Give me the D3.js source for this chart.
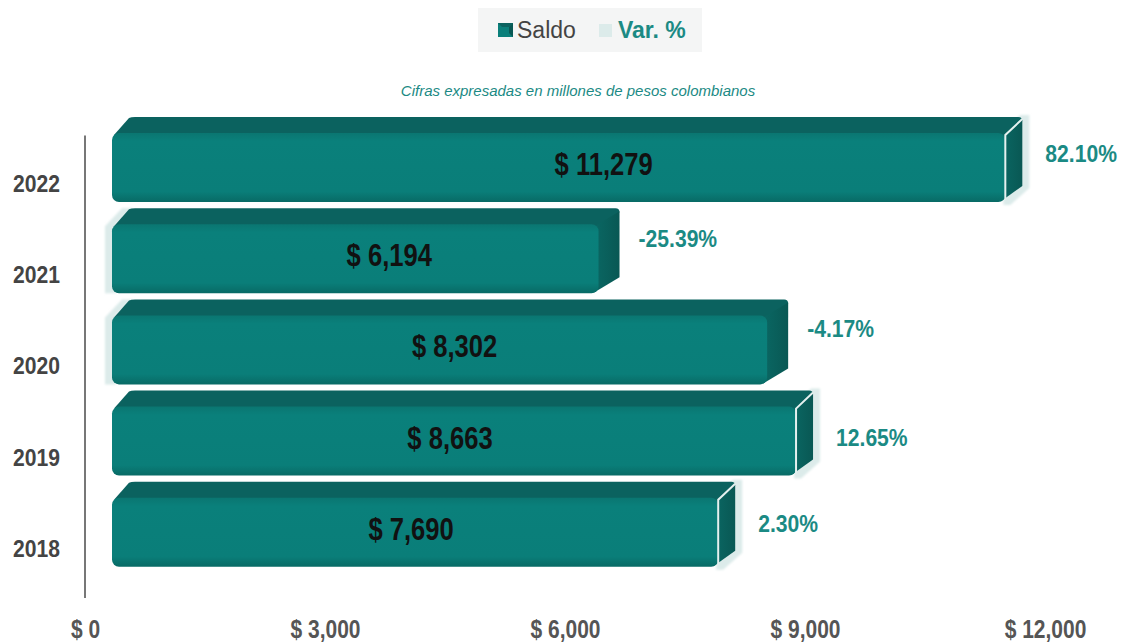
<!DOCTYPE html>
<html>
<head>
<meta charset="utf-8">
<script src="https://cdn.jsdelivr.net/npm/d3@7"></script>
<style>
  html, body { margin: 0; padding: 0; background: #ffffff; }
  svg { display: block; }
</style>
</head>
<body>
<svg id="chart" width="1124" height="642"></svg>
<script>
// Saldo por año (millones de pesos) y variación anual
const years = ["2018", "2019", "2020", "2021", "2022"];
const saldo = [7690, 8663, 8302, 6194, 11279];
const variacion = [2.30, 12.65, -4.17, -25.39, 82.10];
const xTicks = [0, 3000, 6000, 9000, 12000];

// small per-label placement tweaks (px)
const valueLabelShift = [-4, -4, 15, 34, 45];
const pctLabelShiftY = [-25, -20, -37, -36, -30];

const svg = d3.select("#chart");
const SANS = "'Liberation Sans',Arial,sans-serif";

const C = {
  top: "#0b625f",
  side: "#095854",
  front: "#0a7f7a",
  light: "#dcebea",
  pct: "#1b8a84",
  axisText: "#444444"
};

const loc = d3.formatLocale({ decimal: ".", thousands: ",", grouping: [3], currency: ["$", ""], minus: "-" });
const fmtInt = loc.format(",");
const fmtPct = loc.format(".2f");

const x = d3.scaleLinear().domain([0, 12000]).range([85, 1045]);
const y = d3.scaleBand().domain(years.slice().reverse()).range([138.4, 594.4]);

// 3D block geometry
const DX = 17, DY = 16;
const frontTopOff = -51, frontBotOff = 18;
const frontLeft = x(0) + 27;
const endOff = 18;

// condensed bold text: horizontal squeeze around the anchor point
function condensed(sel, s) {
  sel.each(function () {
    const t = d3.select(this);
    const px = +t.attr("x") || 0, py = +t.attr("y") || 0;
    t.attr("x", 0).attr("y", 0)
      .attr("transform", `translate(${px},${py}) scale(${s},1)`);
  });
}

const defs = svg.append("defs");
const g1 = defs.append("linearGradient").attr("id", "frontGrad")
  .attr("x1", 0).attr("y1", 0).attr("x2", 0).attr("y2", 1);
g1.append("stop").attr("offset", "0%").attr("stop-color", "#0a7671");
g1.append("stop").attr("offset", "12%").attr("stop-color", "#0a807b");
g1.append("stop").attr("offset", "85%").attr("stop-color", "#0a7e79");
g1.append("stop").attr("offset", "100%").attr("stop-color", "#086a65");

const sg = defs.append("linearGradient").attr("id", "sideGrad")
  .attr("x1", 0).attr("y1", 0).attr("x2", 1).attr("y2", 0);
sg.append("stop").attr("offset", "0%").attr("stop-color", "#0a6763");
sg.append("stop").attr("offset", "100%").attr("stop-color", C.side);

const f = defs.append("filter").attr("id", "soft").attr("x", "-10%").attr("y", "-30%")
  .attr("width", "120%").attr("height", "160%");
f.append("feGaussianBlur").attr("stdDeviation", 1.2);

// legend
const leg = svg.append("g");
leg.append("rect").attr("x", 478).attr("y", 8).attr("width", 224).attr("height", 44)
  .attr("fill", "#f4f5f5");
leg.append("rect").attr("x", 498).attr("y", 23).attr("width", 15).attr("height", 14)
  .attr("fill", C.front);
leg.append("path").attr("d", "M498,23 L513,23 L509,27 L502,27 Z").attr("fill", C.top);
leg.append("path").attr("d", "M513,23 L513,37 L509,33 L509,27 Z").attr("fill", C.side);
leg.append("text").attr("x", 517).attr("y", 38).text("Saldo")
  .attr("font-family", SANS).attr("font-size", 23).attr("fill", "#444");
leg.append("rect").attr("x", 599).attr("y", 24).attr("width", 13).attr("height", 13)
  .attr("fill", C.light);
leg.append("text").attr("x", 618).attr("y", 38).text("Var. %")
  .attr("font-family", SANS).attr("font-size", 23).attr("font-weight", "bold")
  .attr("fill", C.pct);

// subtitle
svg.append("text").attr("x", 578).attr("y", 96).attr("text-anchor", "middle")
  .attr("font-family", SANS).attr("font-style", "italic").attr("font-size", 15)
  .attr("fill", "#1b8a84").text("Cifras expresadas en millones de pesos colombianos");

// category axis line
svg.append("line").attr("x1", x(0)).attr("x2", x(0))
  .attr("y1", y.range()[0] - 3).attr("y2", y.range()[1] + 3)
  .attr("stroke", "#777").attr("stroke-width", 2);

const rows = years.map((yr, i) => ({ yr, v: saldo[i], p: variacion[i], i }));

const bars = svg.append("g").selectAll("g").data(rows).join("g");

bars.each(function (d) {
  const g = d3.select(this);
  const yc = y(d.yr) + y.bandwidth() / 2;
  const ft = yc + frontTopOff, fb = yc + frontBotOff;
  const xr = x(d.v) + endOff;
  const xl = frontLeft;
  const sideW = d.p < 0 ? DX + 4 : DX;

  // variation block (almost zero length), seen as a pale rim of the 3D block
  if (d.p < 0) {
    g.append("path").attr("fill", C.light).attr("filter", "url(#soft)")
      .attr("d", `M${xl - 7},${ft + 2} L${xl - 7 + DX},${ft - DY} L${xl + DX + 4},${ft - DY} L${xl + 4},${ft} L${xl + 4},${fb} L${xl - 7},${fb} Z`);
  } else {
    g.append("path").attr("fill", C.light).attr("filter", "url(#soft)")
      .attr("d", `M${xr - 2},${ft - 1} L${xr + DX - 2},${ft - DY - 2} L${xr + DX + 7},${ft - DY - 2} L${xr + DX + 7},${fb - DY + 2} L${xr + 5},${fb + 3} L${xr - 2},${fb + 3} Z`);
  }

  // top face
  g.append("path").attr("fill", C.top)
    .attr("d", `M${xl + 2},${ft + 2} L${xl + DX},${ft - DY + 1} Q${xl + DX + 2},${ft - DY} ${xl + DX + 6},${ft - DY} L${xr + sideW - 4},${ft - DY} Q${xr + sideW},${ft - DY} ${xr + sideW},${ft - DY + 4} L${xr},${ft + 4} Z`);
  // side face
  g.append("path").attr("fill", "url(#sideGrad)")
    .attr("d", `M${xr - 4},${ft + 2} L${xr + sideW},${ft - DY + 3} L${xr + sideW},${fb - DY} L${xr - 4},${fb - 1} Z`);
  // front face
  g.append("rect").attr("x", xl).attr("y", ft).attr("width", xr - xl).attr("height", fb - ft)
    .attr("rx", 7).attr("ry", 7).attr("fill", "url(#frontGrad)");

  if (d.p >= 0) {
    g.append("path").attr("fill", "none").attr("stroke", "#e4f0ef").attr("stroke-width", 2)
      .attr("d", `M${xr},${fb - 2} L${xr},${ft + 2} L${xr + DX},${ft - DY + 2}`);
  }
});

// value labels on the bars
svg.append("g").selectAll("text").data(rows).join("text")
  .attr("x", d => (frontLeft + x(d.v) + endOff) / 2 + valueLabelShift[d.i])
  .attr("y", d => y(d.yr) + y.bandwidth() / 2 - 9)
  .attr("text-anchor", "middle")
  .attr("font-family", SANS).attr("font-weight", "bold").attr("font-size", 32)
  .attr("fill", "#111")
  .text(d => "$ " + fmtInt(d.v))
  .call(condensed, 0.8);

// variation labels
svg.append("g").selectAll("text").data(rows).join("text")
  .attr("x", d => x(d.v) + endOff + 40)
  .attr("y", d => y(d.yr) + y.bandwidth() / 2 + pctLabelShiftY[d.i] + 8)
  .attr("font-family", SANS).attr("font-weight", "bold").attr("font-size", 24)
  .attr("fill", C.pct)
  .text(d => fmtPct(d.p) + "%")
  .call(condensed, 0.88);

// category axis labels
const yAxis = svg.append("g").attr("transform", `translate(${x(0)},0)`)
  .call(d3.axisLeft(y).tickSize(0).tickPadding(25));
yAxis.select(".domain").remove();
yAxis.selectAll("text").attr("font-family", SANS).attr("font-weight", "bold")
  .attr("font-size", 24).attr("fill", C.axisText)
  .attr("dy", null).attr("y", 8)
  .call(condensed, 0.88);

// value axis labels
svg.append("line").attr("x1", x(0)).attr("x2", x(0)).attr("y1", 592).attr("y2", 598)
  .attr("stroke", "#777").attr("stroke-width", 2);
const xAxis = svg.append("g").attr("transform", "translate(0,638)")
  .call(d3.axisBottom(x).tickValues(xTicks).tickSize(0).tickPadding(0)
    .tickFormat(d => "$ " + fmtInt(d)));
xAxis.select(".domain").remove();
xAxis.selectAll("text").attr("font-family", SANS).attr("font-weight", "bold")
  .attr("font-size", 25).attr("fill", "#555")
  .attr("dy", null).attr("y", 0)
  .call(condensed, 0.84);
</script>
</body>
</html>
